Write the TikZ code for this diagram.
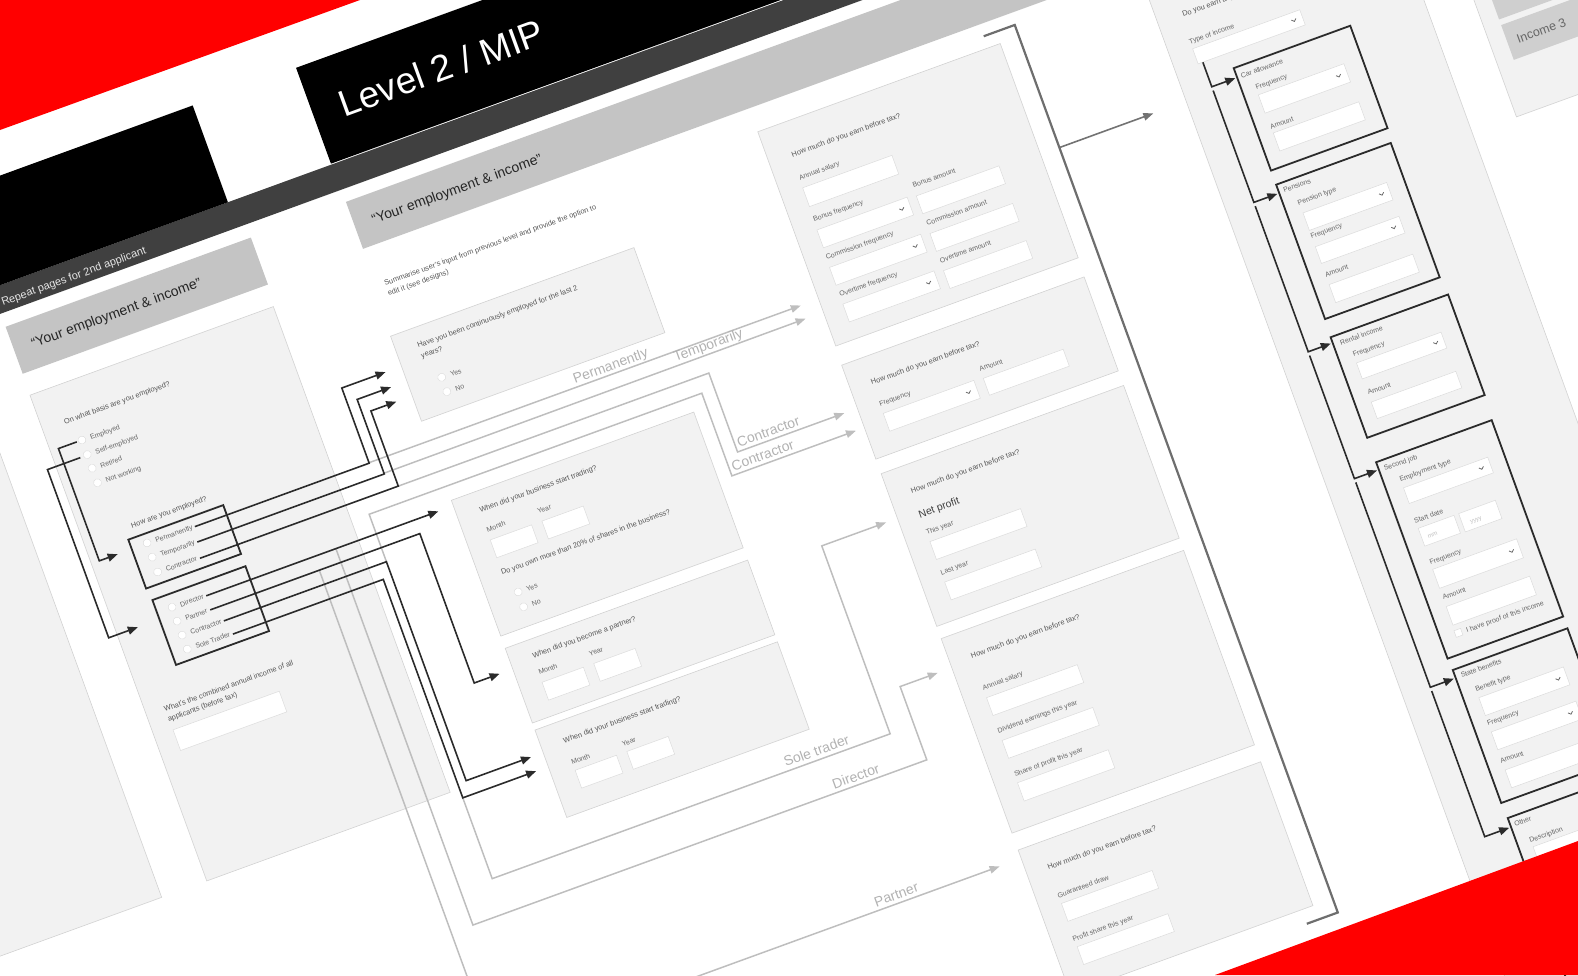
\documentclass[tikz,border=0pt]{standalone}
\usepackage{fontspec}
\setmainfont{Liberation Sans}
\usetikzlibrary{arrows.meta}
\definecolor{panelfill}{HTML}{F2F2F2}
\definecolor{paneledge}{HTML}{D2D2D2}
\definecolor{barfill}{HTML}{C4C4C4}
\definecolor{darkband}{HTML}{404040}
\definecolor{txtc}{HTML}{555555}
\definecolor{lblc}{HTML}{666666}
\definecolor{glink}{HTML}{BEBEBE}
\definecolor{glabel}{HTML}{B2B2B2}
\definecolor{dlink}{HTML}{2B2B2B}
\definecolor{redc}{HTML}{FF0000}
\definecolor{fieldedge}{HTML}{DCDCDC}
\definecolor{btnfill}{HTML}{CFCFCF}
\definecolor{brk}{HTML}{6E6E6E}
\newcommand\fld[4]{\draw[field] (#1,-#2) rectangle ++(#3,-#4);}
\newcommand\chv[2]{\draw[draw=lblc, line width=0.8pt] ({#1-2.4},{-#2+1.1}) -- ({#1},{-#2-1.1}) -- ({#1+2.4},{-#2+1.1});}
\newcommand\rad[2]{\node[radio] at (#1,-#2) {};}
\begin{document}
\begin{tikzpicture}[x=1pt,y=1pt,
  panel/.style={fill=panelfill, draw=paneledge, line width=0.6pt},
  field/.style={fill=white, draw=fieldedge, line width=0.5pt},
  tbox/.style={draw=dlink, line width=1.8pt},
  q/.style={anchor=base west, inner sep=0pt, font=\fontsize{7.4}{9}\selectfont, text=txtc},
  lb/.style={anchor=base west, inner sep=0pt, font=\fontsize{7}{8}\selectfont, text=lblc},
  hd/.style={anchor=base west, inner sep=0pt, font=\fontsize{14}{16}\selectfont, text=black!85},
  glab/.style={anchor=base west, inner sep=0pt, font=\fontsize{14}{16}\selectfont, text=glabel},
  radio/.style={circle, fill=white, draw=fieldedge, line width=0.4pt, minimum size=8pt, inner sep=0pt},
  dk/.style={draw=dlink, line width=1.6pt},
  dka/.style={dk, -{Triangle[length=10pt,width=8pt]}},
  gl/.style={draw=glink, line width=1.5pt},
  gla/.style={gl, -{Triangle[length=10pt,width=7.5pt]}},
]
\useasboundingbox (0,0) rectangle (1578,-975);
\begin{scope}
\clip (0,0) rectangle (1578,-975);
\begin{scope}[rotate=20, transform shape]
% ---------- bands ----------
\fill[darkband] (-600,-268) rectangle (2200,-295);
\fill[black] (-600,-165) rectangle (145,-268);
\fill[black] (255,-165) rectangle (2200,-267);
\node[anchor=base west, inner sep=0pt, text=white, font=\fontsize{37}{40}\selectfont] (title) at (283,-228) {Level 2 / MIP};
\node[anchor=base west, inner sep=0pt, text=white!90!black, font=\fontsize{11}{13}\selectfont] (repeat) at (-102,-288.5) {Repeat pages for 2nd applicant};
\fill[barfill] (-106.5,-309) rectangle (154.5,-359);
\node[hd] (hdA) at (-88,-338.5) {“Your employment \& income”};
\fill[barfill] (256,-308) rectangle (2200,-358);
\node[hd] (hdB) at (274.5,-338.5) {“Your employment \& income”};
% ---------- panels ----------
\draw[panel] (-420,-381.6) rectangle (-155,-898.5);
\draw[panel] (-107,-381.6) rectangle (152,-898.5);
\draw[panel] (252,-449.5) rectangle (511,-540);
\draw[panel] (253,-624.5) rectangle (511,-769);
\draw[panel] (253,-782) rectangle (511,-861.5);
\draw[panel] (253,-869) rectangle (511,-962);
\draw[panel] (667,-383) rectangle (925,-611);
\draw[panel] (666,-631) rectangle (924,-731);
\draw[panel] (666,-746.5) rectangle (924,-909);
\draw[panel] (666,-922) rectangle (924,-1129);
\draw[panel] (666,-1147) rectangle (924,-1300);
\draw[panel] (1080,-381.6) rectangle (1338,-1700);
\draw[panel] (1385,-250) rectangle (1800,-628.5);
\fill[btnfill] (1402,-494) rectangle (1800,-531);
\fill[btnfill] (1402,-537) rectangle (1800,-574);
\node[anchor=base west, inner sep=0pt, font=\fontsize{12.5}{14}\selectfont, text=lblc] (inc3) at (1412,-560) {Income 3};
% ---------- left panel ----------
\node[q] (qbasis) at (-84,-421) {On what basis are you employed?};
\rad{-73.5}{441.5}\rad{-73.5}{457}\rad{-73.5}{471.5}\rad{-73.5}{487}
\node[lb] (oEmp) at (-65,-444.5) {Employed};
\node[lb] (oSelf) at (-65,-460) {Self-employed};
\node[lb] (oRet) at (-65,-474.5) {Retired};
\node[lb] (oNot) at (-65,-490) {Not working};
\node[q] (qhow) at (-56.6,-541.4) {How are you employed?};
\rad{-47.5}{560.5}\rad{-47.5}{575.6}\rad{-47.5}{591.4}
\node[lb] (oPerm) at (-39,-563.5) {Permanently};
\node[lb] (oTemp) at (-39,-578.6) {Temporarily};
\node[lb] (oCon) at (-39,-594.4) {Contractor};
\rad{-46}{629.4}\rad{-46}{644.2}\rad{-46}{659.1}\rad{-46}{674}
\node[lb] (oDir) at (-37.5,-632.4) {Director};
\node[lb] (oPar) at (-37.5,-647.2) {Partner};
\node[lb] (oCon2) at (-37.5,-662.1) {Contractor};
\node[lb] (oSole) at (-37.5,-677) {Sole Trader};
\node[q] (qcomb1) at (-88.4,-725.4) {What's the combined annual income of all};
\node[q] (qcomb2) at (-88.4,-736) {applicants (before tax)};
\fld{-87}{745}{113}{22}
% ---------- middle column ----------
\node[q] (qsum1) at (264,-400.5) {Summarise user's input from previous level and provide the option to};
\node[q] (qsum2) at (264,-411) {edit it (see designs)};
\node[q] (qcont1) at (274,-470) {Have you been continuously employed for the last 2};
\node[q] (qcont2) at (274,-481) {years?};
\rad{286}{505.6}\rad{286}{520.8}
\node[lb] (y1) at (295,-508.4) {Yes};
\node[lb] (n1) at (295,-523.6) {No};
% business 1
\node[q] (qbus1) at (276,-646) {When did your business start trading?};
\node[lb] at (276,-667) {Month};
\node[lb] at (330,-667) {Year};
\fld{276}{675}{44}{19}\fld{331}{675}{44}{19}
\node[q] (qshare) at (275,-712) {Do you own more than 20\% of shares in the business?};
\rad{284.5}{733.5}\rad{284.5}{749.3}
\node[lb] (y2) at (293,-736.3) {Yes};
\node[lb] (n2) at (293,-752.1) {No};
% partner
\node[q] (qpart) at (276,-801) {When did you become a partner?};
\node[lb] at (276,-818.5) {Month};
\node[lb] at (330,-818.5) {Year};
\fld{276}{826.5}{44}{19}\fld{331}{826.5}{44}{19}
% business 2
\node[q] (qbus2) at (276,-891.5) {When did your business start trading?};
\node[lb] at (276,-914.5) {Month};
\node[lb] at (330,-914.5) {Year};
\fld{277}{920.5}{44}{19}\fld{332}{920.5}{44}{19}
% ---------- earnings column ----------
\node[q] (qe1) at (691,-418.7) {How much do you earn before tax?};
\node[lb] at (690,-443) {Annual salary};
\fld{690}{451}{95}{20}
\node[lb] at (689,-487) {Bonus frequency};
\fld{689}{495.5}{96}{19}\chv{776}{505}
\node[lb] at (794,-489) {Bonus amount};
\fld{794}{497.5}{88}{19}
\node[lb] at (688,-527) {Commission frequency};
\fld{688}{535}{97}{19}\chv{776}{544.5}
\node[lb] at (794,-529.5) {Commission amount};
\fld{794}{537.5}{88}{19}
\node[lb] at (688,-566.5) {Overtime frequency};
\fld{688}{574}{97}{19}\chv{776}{583.5}
\node[lb] at (794,-569) {Overtime amount};
\fld{794}{577}{88}{19}
% panel 2
\node[q] (qe2) at (687.5,-660) {How much do you earn before tax?};
\node[lb] at (688,-683) {Frequency};
\fld{688.6}{690.5}{96.4}{19}\chv{776}{700}
\node[lb] at (794,-684.5) {Amount};
\fld{794.6}{691.8}{85}{18}
% panel 3
\node[q] (qe3) at (688,-775.4) {How much do you earn before tax?};
\node[anchor=base west, inner sep=0pt, font=\fontsize{10.5}{12}\selectfont, text=black!75] at (687.2,-801.6) {Net profit};
\node[lb] at (688,-819.6) {This year};
\fld{688.6}{827}{96.4}{19}
\node[lb] at (688,-862.4) {Last year};
\fld{688.6}{870}{96.4}{19}
% panel 4
\node[q] (qe4) at (688,-951) {How much do you earn before tax?};
\node[lb] at (688,-985) {Annual salary};
\fld{688.4}{993}{96.5}{19}
\node[lb] at (687.3,-1030.5) {Dividend earnings this year};
\fld{688.4}{1038.5}{96.5}{19}
\node[lb] at (688.2,-1077) {Share of profit this year};
\fld{688.4}{1083.5}{96.5}{19.5}
% panel 5
\node[q] (qe5) at (687.6,-1176) {How much do you earn before tax?};
\node[lb] at (687.3,-1206) {Guaranteed draw};
\fld{688.4}{1212}{96.5}{19}
\node[lb] at (686.5,-1252) {Profit share this year};
\fld{688.4}{1258}{96.5}{19}
% bracket
\draw[draw=brk, line width=2.2pt] (912,-370.5) -- (945,-370.5) coordinate (brtop) -- (945,-1315) -- (912,-1315);
\coordinate (brout) at (945,-501);
\coordinate (rpin) at (1045,-501);
\draw[draw=black!55, line width=1.6pt, -{Triangle[length=10pt,width=7.5pt]}] (brout) -- (rpin);
% ---------- right column ----------
\node[q] (qother) at (1106,-420.6) {Do you earn any other income?};
\node[lb] at (1103,-448.6) {Type of income};
\fld{1104}{453.7}{114}{16.1}\chv{1209}{461.7}
% car allowance
\draw[tbox] (1136,-486) rectangle (1260,-595);
\node[lb] at (1140,-498.5) {Car allowance};
\node[lb] at (1150,-514) {Frequency};
\fld{1150}{519.5}{91}{19.5}\chv{1232}{529.2}
\node[lb] at (1150,-556.5) {Amount};
\fld{1151}{560.4}{91}{19.2}
% pensions
\draw[tbox] (1136,-610) rectangle (1258,-753);
\node[lb] at (1140.6,-620.5) {Pensions};
\node[lb] at (1150,-637) {Pension type};
\fld{1151.6}{645.7}{89}{18.6}\chv{1232}{655}
\node[lb] at (1150.6,-673) {Frequency};
\fld{1151.6}{681.7}{89}{17.8}\chv{1232}{690.6}
\node[lb] at (1151,-714) {Amount};
\fld{1151.6}{722}{89}{19.2}
% rental
\draw[tbox] (1135,-772) rectangle (1260,-879);
\node[lb] at (1142,-783) {Rental income};
\node[lb] at (1150,-798.5) {Frequency};
\fld{1150.5}{805}{90}{17}\chv{1232}{813.3}
\node[lb] at (1150.8,-839.2) {Amount};
\fld{1151}{846.8}{90}{17.6}
% second job
\draw[tbox] (1135,-905) rectangle (1258,-1114);
\node[lb] at (1140,-916) {Second job};
\node[lb] at (1151,-931.8) {Employment type};
\fld{1152}{938.4}{89.6}{16.7}\chv{1232}{946.7}
\node[lb] at (1150.5,-976) {Start date};
\fld{1152}{981.5}{38}{19}\fld{1195}{981.5}{39}{19.5}
\node[anchor=base west, inner sep=0pt, font=\fontsize{6}{7}\selectfont, text=black!25] at (1158,-994.5) {mm};
\node[anchor=base west, inner sep=0pt, font=\fontsize{6}{7}\selectfont, text=black!25] at (1203,-995) {yyyy};
\node[lb] at (1151,-1020) {Frequency};
\fld{1151.5}{1025}{89.3}{20.2}\chv{1232}{1035}
\node[lb] at (1151.2,-1057.3) {Amount};
\fld{1151.5}{1064.6}{88.8}{19.8}
\draw[field] (1150.5,-1090) rectangle ++(7,-7);
\node[lb] at (1162,-1096.5) {I have proof of this income};
% state benefits
\draw[tbox] (1136,-1126.5) rectangle (1258,-1268);
\node[lb] at (1141.5,-1137) {State benefits};
\node[lb] at (1150.4,-1155) {Benefit type};
\fld{1151}{1161.4}{90}{19}\chv{1232}{1171}
\node[lb] at (1150,-1191) {Frequency};
\fld{1151}{1197.8}{90}{19}\chv{1232}{1207.3}
\node[lb] at (1149.4,-1231) {Amount};
\fld{1151}{1238.3}{90}{19}
% other
\draw[tbox] (1137,-1284.4) rectangle (1258,-1500);
\node[lb] at (1141,-1295) {Other};
\node[lb] at (1149.5,-1315.5) {Description};
\fld{1151}{1320}{90}{19}
% right column arrows
\draw[dka] (1109,-470) -- (1109,-496) -- (1134,-496);
\draw[dka] (1109,-500) -- (1109,-619) -- (1134,-619);
\draw[dka] (1109,-623) -- (1109,-778) -- (1133,-778);
\draw[dka] (1109,-782) -- (1109,-913) -- (1133,-913);
\draw[dka] (1109,-917) -- (1109,-1135) -- (1134,-1135);
\draw[dka] (1109,-1139) -- (1109,-1294) -- (1135,-1294);
% ---------- gray connectors ----------
\draw[gla] (188.5,-561) -- (648,-561);
\node[glab] at (409,-557) {Permanently};
\draw[gla] (199,-576) -- (648,-575);
\node[glab] at (511,-571) {Temporarily};
\draw[gla] (208,-593) -- (538.5,-593) -- (538.5,-677) -- (652,-677);
\node[glab] at (541.5,-673) {Contractor};
\draw[gla] (171,-660) -- (171,-609.5) -- (525,-609.5) -- (525,-697.5) -- (657,-697.5);
\node[glab] at (528,-693.5) {Contractor};
\draw[gla] (162,-908) -- (162,-994) -- (585.5,-994) -- (585.5,-794) -- (654,-794);
\node[glab] at (476,-989.5) {Sole trader};
\draw[gla] (128,-630.4) -- (128,-1031) -- (611,-1031) -- (611,-953) -- (651,-953);
\node[glab] at (514,-1027) {Director};
\draw[gla] (105,-645) -- (105,-1156) -- (643,-1156);
\node[glab] at (513,-1152) {Partner};
% ---------- dark connectors ----------
\draw[dka] (-79,-441.5) -- (-98.5,-441.5) -- (-98.5,-561) -- (-79,-561);
\draw[dka] (-81,-457.5) -- (-116,-457.5) -- (-116,-636.5) -- (-85,-636.5);
\draw[dka] (3,-561.5) -- (188.5,-561.5) -- (188.5,-481.5) -- (235,-481.5);
\draw[dka] (0,-576.8) -- (199,-576.8) -- (199,-497.5) -- (235,-497.5);
\draw[dka] (-3,-593) -- (208,-593) -- (208,-513) -- (235,-513);
\draw[dka] (-10,-630.4) -- (237,-630.4);
\draw[dka] (-11,-645) -- (212,-645) -- (212,-804) -- (239,-804);
\draw[dka] (-2,-660) -- (171,-660) -- (171,-893) -- (240,-893);
\draw[dka] (2,-675.5) -- (162,-675.5) -- (162,-908) -- (240,-908);
\draw[tbox] (-64,-551) rectangle (37,-603);
\draw[tbox] (-62,-616) rectangle (37,-685);
\end{scope}
% ---------- red corners ----------
\fill[redc] (0,0) -- (360,0) -- (0,-130) -- cycle;
\fill[redc] (1215,-975) -- (1578,-975) -- (1578,-841) -- cycle;
\end{scope}
\end{tikzpicture}
\end{document}
